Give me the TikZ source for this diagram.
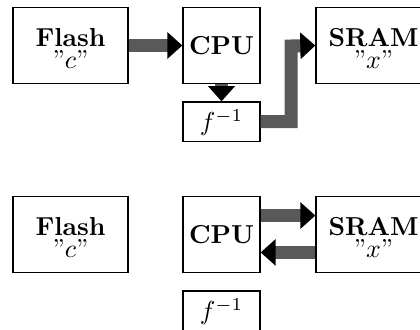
\documentclass[tikz,border=0pt]{standalone}
\usetikzlibrary{arrows.meta}
\begin{document}
\begin{tikzpicture}[x=0.385pt,y=-0.385pt,
  every node/.style={font=\fontsize{10}{12}\selectfont},
  box/.style={draw, line width=0.5pt, inner sep=0pt, minimum height=29.07pt},
  widebox/.style={box, minimum width=44.275pt},
  narrowbox/.style={box, minimum width=29.645pt},
  fbox/.style={draw, line width=0.5pt, inner sep=0pt, minimum width=29.645pt, minimum height=15.2pt},
  lbl/.style={anchor=base, inner sep=0pt, font=\fontsize{10}{12}\selectfont\bfseries},
  sub/.style={anchor=base, inner sep=0pt},
  bigarrow/.style={draw=black!65, line width=5pt, -{Triangle[width=10pt,length=5.8pt,color=black]}}]
\useasboundingbox (0,0) rectangle (420,329);
% top row
\node[widebox] (flash1) at (70.5,45.5) {};
\node[narrowbox] (cpu1) at (221.5,45.5) {};
\node[widebox] (sram1) at (373.5,45.5) {};
\node[fbox] (f1) at (221.5,121.7) {};
\node[lbl] (flash1t) at (70.5,46.7) {Flash};
\node[sub] (flash1c) at (70.5,68.5) {”$c$”};
\node[lbl] (cpu1t) at (221.5,54.5) {CPU};
\node[lbl] (sram1t) at (373.5,46.7) {SRAM};
\node[sub] (sram1x) at (373.5,68) {”$x$”};
\node[sub] (f1t) at (221.5,130.5) {$f^{-1}$};
\coordinate (bend) at (291,46);
\draw[bigarrow] (flash1.east) -- (cpu1.west);
\draw[bigarrow] (cpu1.south) -- (f1.north);
\draw[bigarrow] (f1.east) -| (bend) -- (sram1.west);
% bottom row
\node[widebox] (flash2) at (70.5,234.5) {};
\node[narrowbox] (cpu2) at (221.5,234.5) {};
\node[widebox] (sram2) at (373.5,234.5) {};
\node[fbox] (f2) at (221.5,310.7) {};
\node[lbl] (flash2t) at (70.5,235.7) {Flash};
\node[sub] (flash2c) at (70.5,257.5) {”$c$”};
\node[lbl] (cpu2t) at (221.5,243.5) {CPU};
\node[lbl] (sram2t) at (373.5,235.7) {SRAM};
\node[sub] (sram2x) at (373.5,257) {”$x$”};
\node[sub] (f2t) at (221.5,319.5) {$f^{-1}$};
\draw[bigarrow] ([yshift=7.3pt]cpu2.east) -- ([yshift=7.3pt]sram2.west);
\draw[bigarrow] ([yshift=-6.9pt]sram2.west) -- ([yshift=-6.9pt]cpu2.east);
\end{tikzpicture}
\end{document}
